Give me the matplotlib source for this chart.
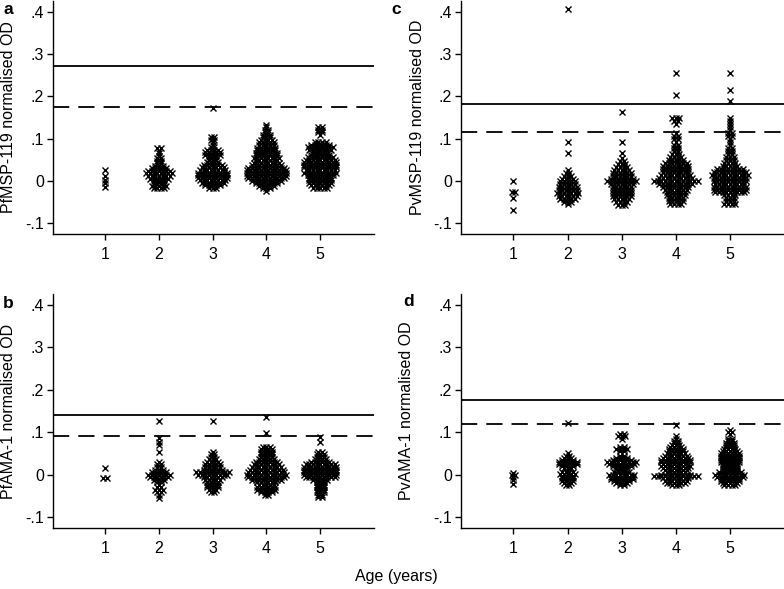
import numpy as np
import matplotlib
matplotlib.use("Agg")
import matplotlib.pyplot as plt

plt.rcParams['font.family'] = ['Liberation Sans', 'DejaVu Sans']

# %% data: dotplot rows (value, number of dots) per age group 1..5
ages = [1, 2, 3, 4, 5]

pfmsp_vals = [
    [0.027, 0.012, 0.003, -0.005, -0.015],
    [0.078, 0.072, 0.066, 0.060, 0.054, 0.048, 0.042, 0.036, 0.030, 0.024, 0.018, 0.012, 0.006, 0.000, -0.006, -0.012, -0.017],
    [0.172, 0.104, 0.098, 0.092, 0.086, 0.080, 0.074, 0.068, 0.062, 0.056, 0.050, 0.044, 0.038, 0.032, 0.026, 0.020, 0.014, 0.008, 0.002, -0.004, -0.010, -0.016],
    [0.133, 0.127, 0.121, 0.115, 0.109, 0.103, 0.097, 0.091, 0.085, 0.079, 0.073, 0.067, 0.061, 0.055, 0.049, 0.043, 0.037, 0.031, 0.025, 0.019, 0.013, 0.007, 0.001, -0.005, -0.011, -0.017, -0.023],
    [0.127, 0.121, 0.115, 0.109, 0.092, 0.086, 0.080, 0.074, 0.068, 0.062, 0.056, 0.050, 0.044, 0.038, 0.032, 0.026, 0.020, 0.014, 0.008, 0.002, -0.004, -0.010, -0.016],
]
pfmsp_cnts = [
    [1, 1, 1, 1, 1],
    [2, 1, 1, 1, 2, 2, 2, 3, 5, 7, 8, 7, 6, 4, 4, 5, 4],
    [1, 2, 2, 1, 1, 2, 4, 5, 5, 3, 3, 4, 6, 7, 8, 9, 9, 9, 8, 7, 5, 3],
    [1, 1, 2, 2, 3, 3, 4, 5, 5, 6, 6, 7, 7, 8, 7, 8, 9, 11, 12, 12, 12, 11, 9, 7, 5, 3, 1],
    [2, 2, 2, 1, 4, 6, 8, 7, 5, 6, 8, 9, 10, 10, 10, 9, 10, 8, 7, 7, 7, 6, 5],
]

pvmsp_vals = [
    [0.0, -0.027, -0.040, -0.068],
    [0.405, 0.093, 0.067, 0.027, 0.020, 0.013, 0.006, -0.001, -0.008, -0.015, -0.022, -0.029, -0.036, -0.043, -0.050, -0.054],
    [0.162, 0.093, 0.067, 0.055, 0.048, 0.041, 0.034, 0.027, 0.020, 0.013, 0.006, -0.001, -0.008, -0.015, -0.022, -0.029, -0.036, -0.043, -0.050, -0.057],
    [0.255, 0.202, 0.148, 0.141, 0.134, 0.113, 0.106, 0.099, 0.092, 0.085, 0.078, 0.071, 0.064, 0.057, 0.050, 0.043, 0.036, 0.029, 0.022, 0.015, 0.008, 0.001, -0.006, -0.013, -0.020, -0.027, -0.034, -0.041, -0.048, -0.055],
    [0.255, 0.215, 0.190, 0.148, 0.141, 0.134, 0.127, 0.120, 0.113, 0.106, 0.099, 0.092, 0.085, 0.078, 0.071, 0.064, 0.057, 0.050, 0.043, 0.036, 0.029, 0.022, 0.015, 0.008, 0.001, -0.006, -0.013, -0.020, -0.027, -0.034, -0.041, -0.048, -0.055],
]
pvmsp_cnts = [
    [1, 2, 1, 1],
    [1, 1, 1, 1, 2, 3, 4, 5, 5, 6, 6, 7, 6, 5, 3, 1],
    [1, 1, 1, 1, 2, 3, 4, 5, 6, 6, 7, 9, 7, 6, 6, 6, 6, 5, 4, 3],
    [1, 1, 3, 2, 1, 1, 2, 2, 1, 2, 2, 2, 3, 4, 5, 7, 8, 8, 8, 9, 10, 13, 10, 8, 7, 6, 6, 5, 5, 4],
    [1, 1, 1, 1, 1, 1, 1, 1, 2, 2, 1, 1, 1, 2, 2, 2, 3, 3, 4, 5, 8, 10, 11, 10, 10, 9, 10, 10, 9, 4, 3, 3, 4],
]

pfama_vals = [
    [0.016, -0.008],
    [0.126, 0.087, 0.078, 0.069, 0.054, 0.030, 0.024, 0.018, 0.012, 0.006, 0.000, -0.006, -0.012, -0.018, -0.024, -0.030, -0.036, -0.042, -0.048, -0.055],
    [0.126, 0.054, 0.048, 0.042, 0.036, 0.030, 0.024, 0.018, 0.012, 0.006, 0.000, -0.006, -0.012, -0.018, -0.024, -0.030, -0.036, -0.042],
    [0.136, 0.097, 0.066, 0.060, 0.054, 0.048, 0.042, 0.036, 0.030, 0.024, 0.018, 0.012, 0.006, 0.000, -0.006, -0.012, -0.018, -0.024, -0.030, -0.036, -0.042, -0.048],
    [0.089, 0.077, 0.054, 0.048, 0.042, 0.036, 0.030, 0.024, 0.018, 0.012, 0.006, 0.000, -0.006, -0.012, -0.018, -0.024, -0.030, -0.036, -0.042, -0.048, -0.053],
]
pfama_cnts = [
    [1, 2],
    [1, 1, 1, 1, 1, 1, 2, 2, 3, 5, 7, 6, 4, 2, 1, 2, 3, 2, 1, 1],
    [1, 1, 2, 2, 3, 4, 5, 5, 6, 10, 9, 6, 5, 4, 4, 4, 3, 2],
    [1, 1, 3, 4, 4, 4, 4, 5, 7, 8, 9, 10, 11, 12, 11, 9, 6, 5, 6, 6, 4, 2],
    [1, 1, 2, 3, 3, 4, 6, 9, 10, 10, 10, 10, 9, 5, 3, 3, 3, 3, 3, 2, 2],
]

pvama_vals = [
    [0.004, -0.001, -0.006, -0.013, -0.022],
    [0.121, 0.050, 0.045, 0.040, 0.035, 0.030, 0.025, 0.020, 0.015, 0.006, 0.001, -0.004, -0.009, -0.014, -0.019, -0.024],
    [0.095, 0.090, 0.085, 0.065, 0.060, 0.055, 0.045, 0.040, 0.035, 0.030, 0.025, 0.020, 0.015, 0.010, 0.005, 0.000, -0.005, -0.010, -0.015, -0.020, -0.025],
    [0.118, 0.090, 0.085, 0.080, 0.075, 0.070, 0.065, 0.060, 0.055, 0.050, 0.045, 0.040, 0.035, 0.030, 0.025, 0.020, 0.015, 0.010, 0.005, 0.000, -0.004, -0.009, -0.014, -0.019, -0.024],
    [0.105, 0.100, 0.095, 0.085, 0.080, 0.075, 0.070, 0.065, 0.060, 0.055, 0.050, 0.045, 0.040, 0.035, 0.030, 0.025, 0.020, 0.015, 0.010, 0.005, 0.000, -0.005, -0.010, -0.015, -0.020, -0.024],
]
pvama_cnts = [
    [1, 2, 1, 1, 1],
    [1, 1, 2, 3, 4, 6, 6, 4, 3, 4, 5, 4, 4, 4, 3, 2],
    [2, 3, 1, 2, 4, 2, 2, 4, 6, 9, 8, 6, 4, 3, 5, 8, 7, 7, 5, 4, 2],
    [1, 1, 1, 2, 2, 3, 4, 5, 5, 6, 7, 8, 9, 9, 8, 9, 8, 7, 6, 9, 13, 8, 7, 6, 3],
    [1, 2, 1, 2, 2, 3, 3, 3, 4, 5, 6, 6, 6, 6, 6, 5, 5, 5, 5, 7, 9, 8, 6, 6, 5, 4],
]

# cut-offs (solid, dashed)
pfmsp_cut = (0.271, 0.174)
pvmsp_cut = (0.181, 0.115)
pfama_cut = (0.140, 0.091)
pvama_cut = (0.176, 0.119)

ylabels = ['PfMSP-119 normalised OD', 'PvMSP-119 normalised OD',
           'PfAMA-1 normalised OD', 'PvAMA-1 normalised OD']
letters = ['a', 'c', 'b', 'd']

# %% figure
W, H = 784, 589
fig = plt.figure(figsize=(W / 100, H / 100), dpi=100)

# axes rectangles in pixels: left, top, right, bottom
rects = [(53, 1, 374, 234), (461, 1, 784, 234),
         (53, 294.4, 374, 527.6), (461, 294.4, 784, 527.6)]
panels = [(pfmsp_vals, pfmsp_cnts, pfmsp_cut),
          (pvmsp_vals, pvmsp_cnts, pvmsp_cut),
          (pfama_vals, pfama_cnts, pfama_cut),
          (pvama_vals, pvama_cnts, pvama_cut)]
letter_pos = [(8, 9), (396, 9), (8, 303), (409, 302)]
ylab_x = [9, 418, 9, 406]

dx = 0.067
fs = 11.5

for i, ((vals, cnts, cut), (l, t, r, b)) in enumerate(zip(panels, rects)):
    ax = fig.add_axes([l / W, 1 - b / H, (r - l) / W, (b - t) / H])
    xs, ys = [], []
    for age, gv, gc in zip(ages, vals, cnts):
        for v, c in zip(gv, gc):
            offs = (np.arange(c) - (c - 1) / 2.0) * dx
            xs.extend(age + offs)
            ys.extend([v] * c)
    ax.axhline(cut[0], color='black', lw=1.3, zorder=1)
    ax.axhline(cut[1], color='black', lw=1.3, ls=(0, (9, 5)), zorder=1)
    ax.plot(xs, ys, 'x', color='black', ms=4.8, mew=1.0, zorder=3)

    ax.set_xlim(0.03, 6.0)
    ax.set_ylim(-0.125, 0.425)
    ax.set_xticks(ages)
    ax.set_yticks([-0.1, 0, 0.1, 0.2, 0.3, 0.4])
    ax.set_yticklabels(['-.1', '0', '.1', '.2', '.3', '.4'])
    for s in ['top', 'right']:
        ax.spines[s].set_visible(False)
    for s in ['left', 'bottom']:
        ax.spines[s].set_linewidth(1.0)
    ax.tick_params(axis='y', length=4.5, width=1.0, pad=2, labelsize=fs)
    ax.tick_params(axis='x', length=4.5, width=1.0, pad=5, labelsize=fs)
    ax.set_facecolor('none')

    yc = (t + b) / 2.0
    fig.text(ylab_x[i] / W, 1 - yc / H, ylabels[i], rotation=90,
             ha='center', va='center', fontsize=fs)
    fig.text(letter_pos[i][0] / W, 1 - letter_pos[i][1] / H, letters[i],
             ha='center', va='center', fontsize=12.5, fontweight='bold')

fig.text(396 / W, 1 - 577 / H, 'Age (years)', ha='center', va='center', fontsize=fs)

fig.savefig('out.png', dpi=100)
